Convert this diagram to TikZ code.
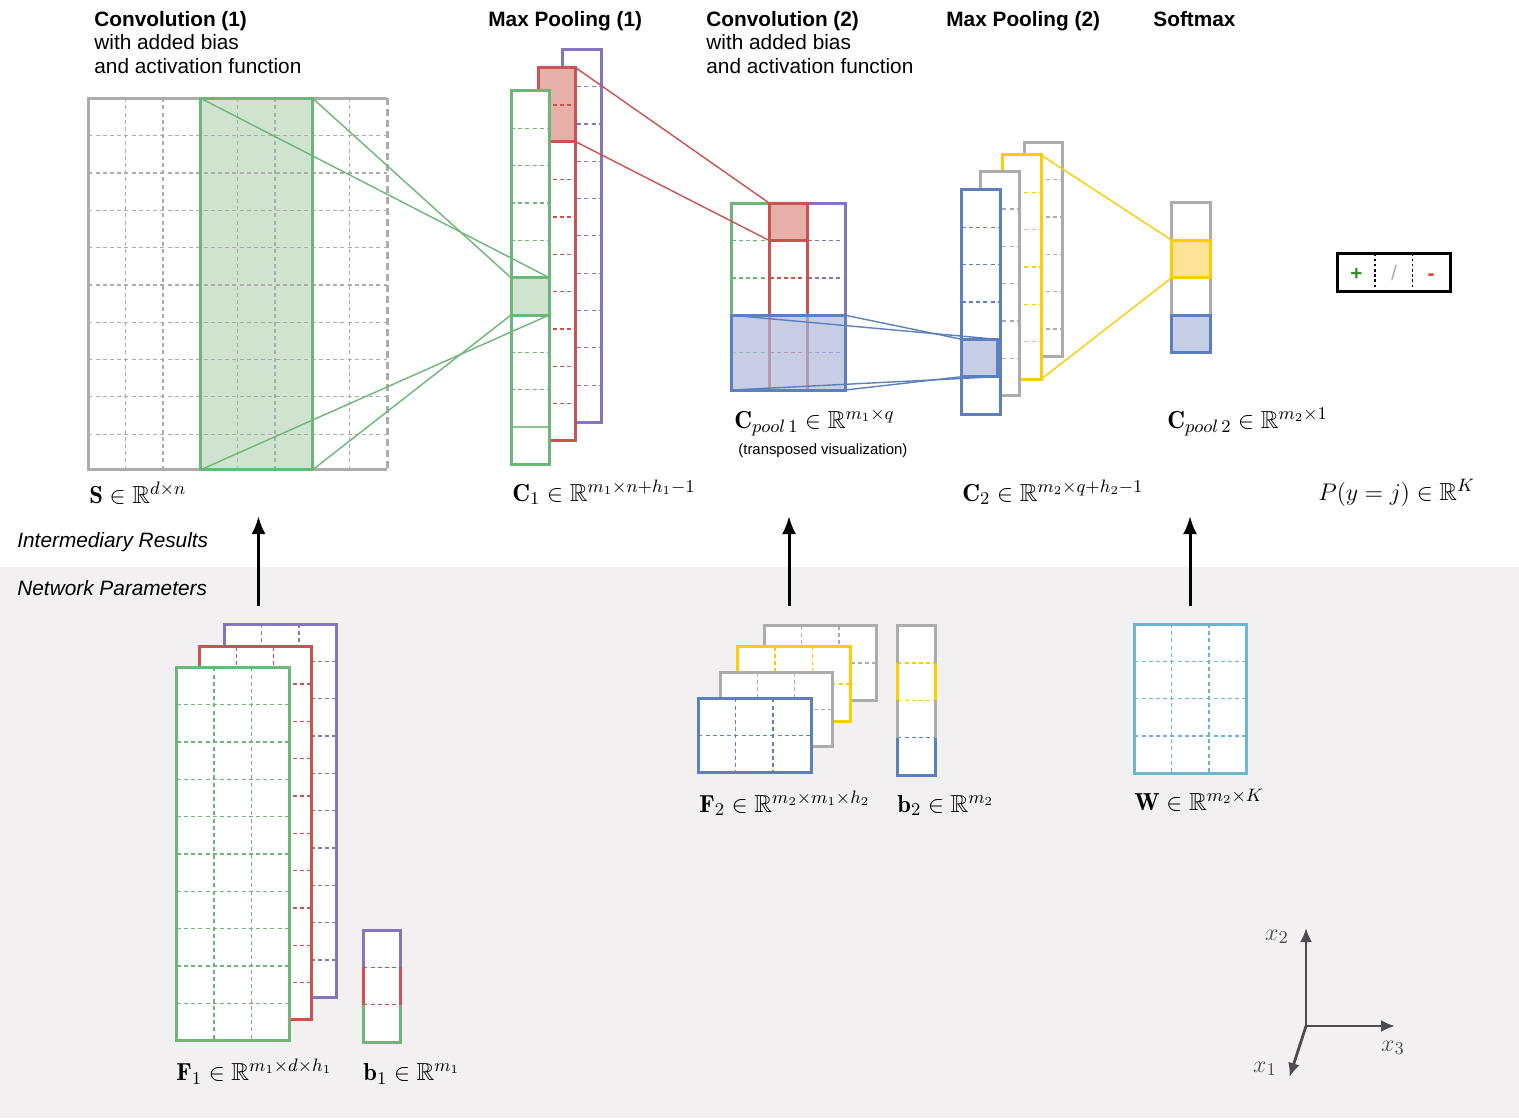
\documentclass[tikz,border=0pt]{standalone}
\usepackage{amsmath,amssymb}
\usepackage{fontspec}
\usetikzlibrary{arrows.meta}
\newfontfamily\lsans{Liberation Sans}
\definecolor{cgray}{RGB}{172,172,172}
\definecolor{cgreen}{RGB}{108,182,120}
\definecolor{cgreenf}{RGB}{207,227,207}
\definecolor{cred}{RGB}{204,81,81}
\definecolor{credf}{RGB}{229,176,170}
\definecolor{cpurple}{RGB}{133,117,190}
\definecolor{cblue}{RGB}{92,128,190}
\definecolor{cbluef}{RGB}{174,185,219}
\definecolor{cbluel}{RGB}{198,206,230}
\definecolor{cyellow}{RGB}{255,204,0}
\definecolor{cyellowf}{RGB}{255,227,150}
\definecolor{ccyan}{RGB}{108,183,206}
\definecolor{cbg}{RGB}{242,240,241}
\definecolor{caxis}{RGB}{75,75,80}
\definecolor{cplus}{RGB}{60,140,50}
\definecolor{cminus}{RGB}{230,50,40}
\tikzset{
  bord/.style={line width=1.5pt},
  gdash/.style={line width=0.55pt, dash pattern=on 2pt off 1.6pt},
  conn/.style={line width=0.7pt},
  ttl/.style={font=\lsans\bfseries\fontsize{10.4}{12}\selectfont, anchor=base west, inner sep=0pt},
  sub/.style={font=\lsans\fontsize{10.4}{12}\selectfont, anchor=base west, inner sep=0pt},
  itl/.style={font=\lsans\itshape\fontsize{10.4}{12}\selectfont, anchor=base west, inner sep=0pt},
  sml/.style={font=\lsans\fontsize{7.45}{9}\selectfont, anchor=base west, inner sep=0pt},
  mlab/.style={font=\fontsize{12.3}{14}\selectfont, anchor=base west, inner sep=0pt},
  alab/.style={font=\fontsize{12.3}{14}\selectfont, inner sep=0pt, text=caxis},
  upar/.style={line width=1.5pt, -{Latex[length=9pt,width=7pt]}},
  axarr/.style={line width=1.4pt, caxis, -{Latex[length=7pt,width=6pt]}},
  pm/.style={font=\lsans\bfseries\fontsize{10.4}{12}\selectfont, inner sep=0pt},
}
\newcommand{\cellsz}{37.33}
\newcommand{\glines}[5]{%
  \pgfmathtruncatemacro\gnc{(#3-2)/\cellsz}%
  \pgfmathtruncatemacro\gnr{(#4-2)/\cellsz}%
  \ifnum\gnc>0 \foreach \k in {1,...,\gnc}{\draw[gdash,#5] ({#1+\k*\cellsz},#2) -- ++(0,#4);}\fi
  \ifnum\gnr>0 \foreach \k in {1,...,\gnr}{\draw[gdash,#5] (#1,{#2+\k*\cellsz}) -- ++(#3,0);}\fi
}
\newcommand{\gbox}[5]{%
  \fill[white] (#1,#2) rectangle ++(#3,#4);
  \glines{#1}{#2}{#3}{#4}{#5}
  \draw[bord,#5] (#1,#2) rectangle ++(#3,#4);
}
\begin{document}
\begin{tikzpicture}[x=0.5pt,y=-0.5pt]
\useasboundingbox (0,0) rectangle (1519,1118);
\fill[white] (0,0) rectangle (1519,1118);
\fill[cbg] (0,567) rectangle (1519,1118);

% ---------- titles ----------
\node[ttl] (t1) at (94,27) {Convolution (1)};
\node[sub] (t1b) at (94,50) {with added bias};
\node[sub] (t1c) at (94,73.5) {and activation function};
\node[ttl] (t2) at (488,27) {Max Pooling (1)};
\node[ttl] (t3) at (706,27) {Convolution (2)};
\node[sub] (t3b) at (706,50) {with added bias};
\node[sub] (t3c) at (706,73.5) {and activation function};
\node[ttl] (t4) at (946,27) {Max Pooling (2)};
\node[ttl] (t5) at (1153,27) {Softmax};

% ---------- S matrix ----------
\fill[white] (88.3,98.3) rectangle (387.3,469.7);
\fill[cgreenf] (200.7,98.3) rectangle (312.7,469.7);
\glines{88.3}{98.3}{299}{371.4}{cgray}
\draw[bord,cgray] (387.3,98.3) -- (88.3,98.3) -- (88.3,469.7) -- (387.3,469.7);
\draw[bord,cgray,dash pattern=on 3.5pt off 2pt] (387.3,98.3) -- (387.3,469.7);
\draw[bord,cgreen] (200.7,98.3) rectangle (312.7,469.7);

% ---------- C1 ----------
\gbox{562.7}{49.3}{38.3}{373.3}{cpurple}
\fill[white] (538.3,67.7) rectangle ++(37.4,372.3);
\fill[credf] (538.3,67.7) rectangle ++(37.4,74);
\glines{538.3}{67.7}{37.4}{372.3}{cred}
\draw[bord,cred] (538.3,67.7) rectangle ++(37.4,372.3);
\draw[bord,cred] (538.3,67.7) rectangle ++(37.4,74);
\fill[white] (511,91) rectangle ++(38.3,373.3);
\fill[cgreenf] (511,277.7) rectangle ++(38.3,37.33);
\glines{511}{91}{38.3}{373.3}{cgreen}
\fill[white] (512,425) rectangle ++(36.3,4);
\draw[line width=0.8pt,cgreen!80] (511,427) -- ++(38.3,0);
\draw[bord,cgreen] (511,91) rectangle ++(38.3,373.3);
\draw[bord,cgreen] (511,277.7) rectangle ++(38.3,37.33);

% ---------- C pool 1 ----------
\gbox{731.7}{203.3}{37.8}{186.7}{cgreen}
\gbox{807.5}{203.3}{38}{186.7}{cpurple}
\fill[white] (769.5,203.3) rectangle ++(38,186.7);
\fill[credf] (769.5,203.3) rectangle ++(38,37.33);
\glines{769.5}{203.3}{38}{186.7}{cred}
\draw[bord,cred] (769.5,203.3) rectangle ++(38,186.7);
\draw[bord,cred] (769.5,203.3) rectangle ++(38,37.33);
\fill[cbluef,fill opacity=0.7] (731.7,315.3) rectangle (845.5,390);
\draw[bord,cblue] (731.7,315.3) rectangle (845.5,390);

% ---------- C2 ----------
\gbox{1024}{142.3}{38.3}{214.4}{cgray}
\gbox{1002.7}{155}{38.3}{224.3}{cyellow}
\gbox{980.7}{171.7}{38.3}{224}{cgray}
\gbox{961.7}{190}{38.3}{224}{cblue}
\fill[cbluel] (961.7,339.3) rectangle (997,376.7);
\draw[bord,cblue] (961.7,339.3) rectangle (997,376.7);

% ---------- softmax column ----------
\fill[white] (1171.7,202.7) rectangle ++(38.3,150);
\draw[bord,cgray] (1171.7,202.7) rectangle ++(38.3,150);
\fill[cyellowf] (1171.7,240.2) rectangle ++(38.3,37.5);
\draw[bord,cyellow] (1171.7,240.2) rectangle ++(38.3,37.5);
\fill[cbluel] (1171.7,315.2) rectangle ++(38.3,37.5);
\draw[bord,cblue] (1171.7,315.2) rectangle ++(38.3,37.5);

% ---------- +/- box ----------
\draw[line width=1.5pt] (1337.3,253.3) rectangle (1450,291.7);
\draw[line width=0.6pt,dash pattern=on 1.3pt off 1.3pt] (1375,253.3) -- (1375,291.7);
\draw[line width=0.6pt,dash pattern=on 1.3pt off 1.3pt] (1412.7,253.3) -- (1412.7,291.7);
\node[pm,text=cplus] (plus) at (1356.5,274.5) {+};
\node[pm,font=\lsans\fontsize{10.4}{12}\selectfont,text=cgray] (slash) at (1394,273.5) {/};
\node[pm,text=cminus] (minus) at (1431,277) {-};

% ---------- coordinates for connectors ----------
\coordinate (s-tl) at (200.7,98.3);
\coordinate (s-tr) at (312.7,98.3);
\coordinate (s-bl) at (200.7,469.7);
\coordinate (s-br) at (312.7,469.7);
\coordinate (c1g-tl) at (511,277.7);
\coordinate (c1g-tr) at (549.3,277.7);
\coordinate (c1g-bl) at (511,315);
\coordinate (c1g-br) at (549.3,315);
\coordinate (c1r-tr) at (575.7,67.7);
\coordinate (c1r-br) at (575.7,141.7);
\coordinate (p1r-tl) at (769.5,203.3);
\coordinate (p1r-bl) at (769.5,240.6);
\coordinate (p1b-tl) at (731.7,315.3);
\coordinate (p1b-tr) at (845.5,315.3);
\coordinate (p1b-bl) at (731.7,390);
\coordinate (p1b-br) at (845.5,390);
\coordinate (c2b-tl) at (961.7,339.3);
\coordinate (c2b-tr) at (997,339.3);
\coordinate (c2b-bl) at (961.7,376.7);
\coordinate (c2b-br) at (997,376.7);
\coordinate (c2y-tr) at (1041,155);
\coordinate (c2y-br) at (1041,379.3);
\coordinate (smy-tl) at (1171.7,240.2);
\coordinate (smy-bl) at (1171.7,277.7);

\draw[conn,cgreen] (s-tl) -- (c1g-tr);
\draw[conn,cgreen] (s-tr) -- (c1g-tl);
\draw[conn,cgreen] (s-bl) -- (c1g-br);
\draw[conn,cgreen] (s-br) -- (c1g-bl);
\draw[conn,cred] (c1r-tr) -- (p1r-tl);
\draw[conn,cred] (c1r-br) -- (p1r-bl);
\draw[conn,cblue] (p1b-tl) -- (c2b-tr);
\draw[conn,cblue] (p1b-tr) -- (c2b-tl);
\draw[conn,cblue] (p1b-bl) -- (c2b-br);
\draw[conn,cblue] (p1b-br) -- (c2b-bl);
\draw[conn,cyellow] (c2y-tr) -- (smy-tl);
\draw[conn,cyellow] (c2y-br) -- (smy-bl);

% ---------- labels (top) ----------
\node[mlab] (ls) at (89,503.5) {$\mathbf{S}\in\mathbb{R}^{d\times n}$};
\node[mlab] (lc1) at (512,501) {$\mathbf{C}_1\in\mathbb{R}^{m_1\times n+h_1-1}$};
\node[mlab] (lp1) at (734,428) {$\mathbf{C}_{pool\,1}\in\mathbb{R}^{m_1\times q}$};
\node[sml] (lp1b) at (738,454) {(transposed visualization)};
\node[mlab] (lc2) at (962,501) {$\mathbf{C}_2\in\mathbb{R}^{m_2\times q+h_2-1}$};
\node[mlab] (lp2) at (1167,428) {$\mathbf{C}_{pool\,2}\in\mathbb{R}^{m_2\times 1}$};
\node[mlab] (lpy) at (1318,500) {$P(y=j)\in\mathbb{R}^K$};
\node[itl] (ir) at (17,547) {Intermediary Results};
\node[itl] (np) at (17,595) {Network Parameters};

% ---------- arrows ----------
\coordinate (a1s) at (258.5,606); \coordinate (a1e) at (258.5,516);
\coordinate (a2s) at (789,606); \coordinate (a2e) at (789,516);
\coordinate (a3s) at (1190,606); \coordinate (a3e) at (1190,516);
\draw[upar] (a1s) -- (a1e);
\draw[upar] (a2s) -- (a2e);
\draw[upar] (a3s) -- (a3e);

% ---------- F1 ----------
\gbox{224.3}{624}{112.4}{373.3}{cpurple}
\gbox{199}{646.7}{112.7}{372.6}{cred}
\gbox{176.7}{667.3}{112.3}{372.7}{cgreen}
% b1
\fill[white] (363.3,930) rectangle (400.7,1042);
\draw[gdash,cred] (363.3,967.3) -- (400.7,967.3);
\draw[gdash,cred] (363.3,1004.7) -- (400.7,1004.7);
\draw[bord,cpurple] (363.3,967.3) -- (363.3,930) -- (400.7,930) -- (400.7,967.3);
\draw[bord,cred] (363.3,967.3) -- (363.3,1004.7);
\draw[bord,cred] (400.7,967.3) -- (400.7,1004.7);
\draw[bord,cgreen] (363.3,1004.7) -- (363.3,1042) -- (400.7,1042) -- (400.7,1004.7);

% ---------- F2 ----------
\gbox{764.3}{625.7}{112.4}{74.3}{cgray}
\gbox{737.7}{646.7}{112.3}{75}{cyellow}
\gbox{720}{672.3}{112.3}{74.4}{cgray}
\gbox{698.3}{698.3}{112.7}{74.4}{cblue}
% b2
\fill[white] (897.3,625.7) rectangle (935.7,775);
\draw[gdash,cyellow] (897.3,663) -- (935.7,663);
\draw[gdash,cyellow] (897.3,700.3) -- (935.7,700.3);
\draw[gdash,cblue] (897.3,737.7) -- (935.7,737.7);
\draw[bord,cgray] (897.3,663) -- (897.3,625.7) -- (935.7,625.7) -- (935.7,663);
\draw[bord,cyellow] (897.3,663) -- (897.3,700.3);
\draw[bord,cyellow] (935.7,663) -- (935.7,700.3);
\draw[bord,cgray] (897.3,700.3) -- (897.3,737.7);
\draw[bord,cgray] (935.7,700.3) -- (935.7,737.7);
\draw[bord,cblue] (897.3,737.7) -- (897.3,775) -- (935.7,775) -- (935.7,737.7);

% ---------- W ----------
\gbox{1134.3}{624}{112.4}{149.3}{ccyan}

% ---------- labels (bottom) ----------
\node[mlab] (lf1) at (176,1080.5) {$\mathbf{F}_1\in\mathbb{R}^{m_1\times d\times h_1}$};
\node[mlab] (lb1) at (363,1080.5) {$\mathbf{b}_1\in\mathbb{R}^{m_1}$};
\node[mlab] (lf2) at (699,812) {$\mathbf{F}_2\in\mathbb{R}^{m_2\times m_1\times h_2}$};
\node[mlab] (lb2) at (897,812) {$\mathbf{b}_2\in\mathbb{R}^{m_2}$};
\node[mlab] (lw) at (1134,810.5) {$\mathbf{W}\in\mathbb{R}^{m_2\times K}$};

% ---------- axes ----------
\coordinate (o) at (1306,1026);
\coordinate (ax2) at (1306,928);
\coordinate (ax3) at (1395,1026);
\coordinate (ax1) at (1289.5,1077);
\draw[axarr] (o) -- (ax2);
\draw[axarr] (o) -- (ax3);
\draw[axarr] (o) -- (ax1);
\node[alab] (lx2) at (1277,937) {$x_2$};
\node[alab] (lx3) at (1393,1048) {$x_3$};
\node[alab] (lx1) at (1265,1069) {$x_1$};
\end{tikzpicture}
\end{document}
